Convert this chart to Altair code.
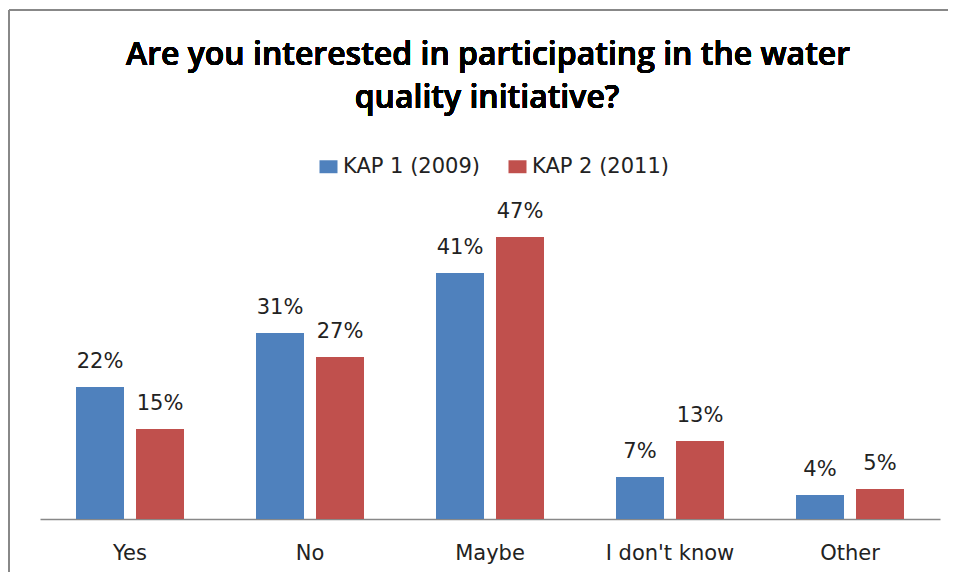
import altair as alt
import pandas as pd

categories = ["Yes", "No", "Maybe", "I don't know", "Other"]
series_names = ["KAP 1 (2009)", "KAP 2 (2011)"]
kap1 = [22, 31, 41, 7, 4]
kap2 = [15, 27, 47, 13, 5]
colors = ["#4F81BD", "#C0504D"]
title_lines = ["Are you interested in participating in the water", "quality initiative?"]

rows = []
for c, a, b in zip(categories, kap1, kap2):
    rows.append({"cat": c, "series": series_names[0], "value": a})
    rows.append({"cat": c, "series": series_names[1], "value": b})
df = pd.DataFrame(rows)
df["label"] = df["value"].astype(str) + "%"

FONT = "DejaVu Sans"
FS = 21
TFONT = "Open Sans"

x = alt.X("cat:N", sort=categories, title=None,
          scale=alt.Scale(paddingInner=0.4, paddingOuter=0.2),
          axis=alt.Axis(labelAngle=0, labelFont=FONT, labelFontSize=FS, labelColor="#222",
                        ticks=False, labelPadding=23, domainColor="#888888", domainWidth=1.5))
xo = alt.XOffset("series:N", sort=series_names, scale=alt.Scale(paddingInner=0.2))
y = alt.Y("value:Q", scale=alt.Scale(domain=[0, 50]), axis=None)

bars = alt.Chart(df).mark_bar().encode(
    x=x, xOffset=xo, y=y,
    color=alt.Color("series:N", sort=series_names,
                    scale=alt.Scale(domain=series_names, range=colors),
                    legend=alt.Legend(title=None, orient="none", legendX=278, legendY=-63,
                                      direction="horizontal",
                                      symbolType="M-1,-0.72H1V0.72H-1Z",
                                      symbolSize=324, symbolStrokeWidth=0,
                                      labelFont=FONT, labelFontSize=FS, labelColor="#222",
                                      columnPadding=27, symbolOffset=0, labelOffset=4))
)

labels = alt.Chart(df).mark_text(baseline="bottom", dy=-15, font=FONT, fontSize=FS,
                                 color="#222").encode(
    x=alt.X("cat:N", sort=categories), xOffset=xo, y=y, text="label:N"
)

title1 = alt.Chart(df).mark_text(font=TFONT, fontSize=32, fontWeight=600, color="#000",
                                 baseline="alphabetic", align="center").encode(
    x=alt.value(448), y=alt.value(-154), text=alt.value(title_lines[0])
)
title2 = alt.Chart(df).mark_text(font=TFONT, fontSize=32, fontWeight=600, color="#000",
                                 baseline="alphabetic", align="center").encode(
    x=alt.value(447), y=alt.value(-111), text=alt.value(title_lines[1])
)

frame_top = alt.Chart(df).mark_rule(color="#888888", strokeWidth=2).encode(
    x=alt.value(-31), x2=alt.value(910), y=alt.value(-209)
)
frame_left = alt.Chart(df).mark_rule(color="#888888", strokeWidth=2).encode(
    x=alt.value(-31), y=alt.value(-209), y2=alt.value(360)
)

chart = alt.layer(bars, labels, title1, title2, frame_top, frame_left).properties(
    width=900, height=300,
    autosize=alt.AutoSizeParams(type="none"),
    padding={"left": 32, "top": 211, "right": 8, "bottom": 53},
).configure(background="white").configure_view(stroke=None)

chart.save("out.html", embed_options={"renderer": "svg", "actions": False})
